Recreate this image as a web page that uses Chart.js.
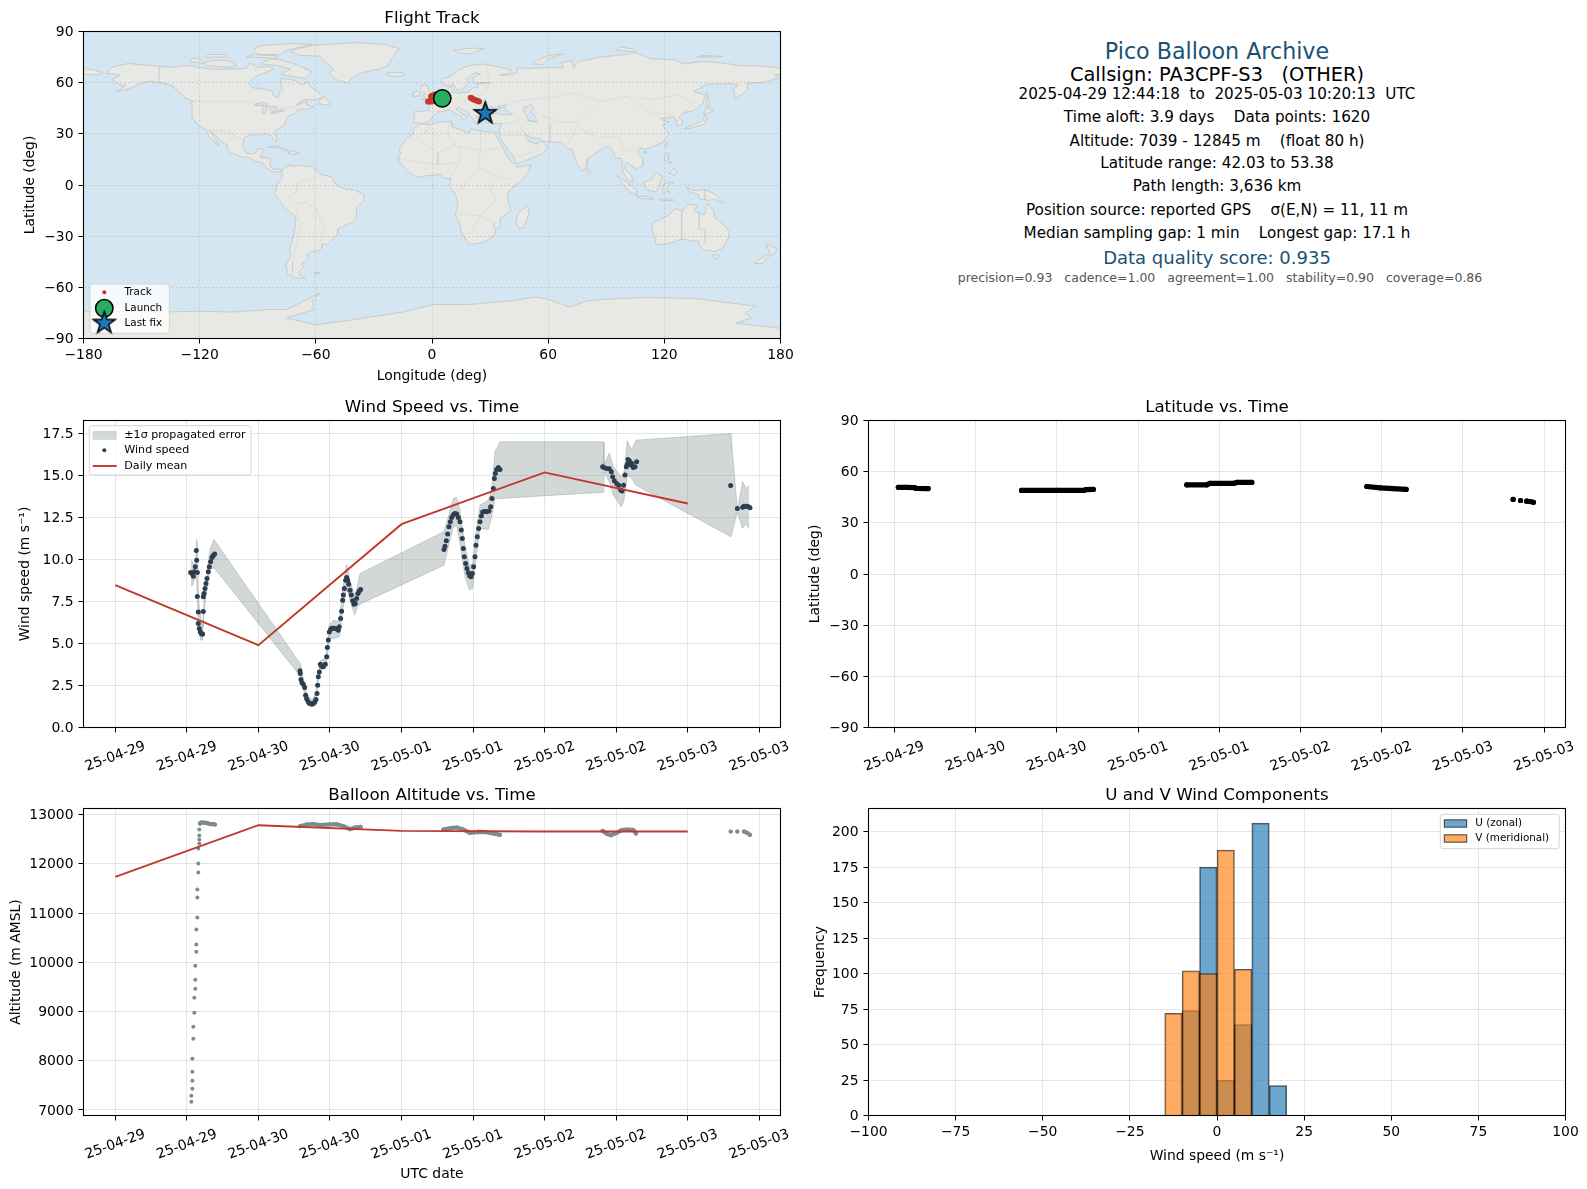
<!DOCTYPE html>
<html>
<head>
<meta charset="utf-8">
<title>Pico Balloon Archive</title>
<script src="https://cdn.jsdelivr.net/npm/chart.js@4/dist/chart.umd.js"></script>
<style>
  body { margin: 0; background: #fff; font-family: "DejaVu Sans", sans-serif; }
  #page { position: relative; width: 1587px; height: 1189px; overflow: hidden; }
  canvas { position: absolute; }
  .info { position: absolute; left: 1217px; transform: translate(-50%, -50%); white-space: pre; color: #000; font-size: 15.2px; }
</style>
</head>
<body>
<div id="page">
  <canvas id="map"></canvas>
  <canvas id="wind"></canvas>
  <canvas id="lat"></canvas>
  <canvas id="alt"></canvas>
  <canvas id="hist"></canvas>
  <div class="info" style="top:50.6px;font-size:22.2px;color:#1a5276">Pico Balloon Archive</div>
  <div class="info" style="top:73.9px;font-size:19.4px">Callsign: PA3CPF-S3   (OTHER)</div>
  <div class="info" style="top:94.1px">2025-04-29 12:44:18  to  2025-05-03 10:20:13  UTC</div>
  <div class="info" style="top:117.4px">Time aloft: 3.9 days    Data points: 1620</div>
  <div class="info" style="top:140.7px">Altitude: 7039 - 12845 m    (float 80 h)</div>
  <div class="info" style="top:162.9px">Latitude range: 42.03 to 53.38</div>
  <div class="info" style="top:186.2px">Path length: 3,636 km</div>
  <div class="info" style="top:209.5px">Position source: reported GPS    σ(E,N) = 11, 11 m</div>
  <div class="info" style="top:232.8px">Median sampling gap: 1 min    Longest gap: 17.1 h</div>
  <div class="info" style="top:257px;font-size:18px;color:#1a5276">Data quality score: 0.935</div>
  <div class="info" style="top:277.3px;left:1220px;font-size:12.5px;color:#555">precision=0.93   cadence=1.00   agreement=1.00   stability=0.90   coverage=0.86</div>
</div>
<script>
// times are hours after 2025-04-29 00:00 UTC
const hourTicks = [0, 12, 24, 36, 48, 60, 72, 84, 96, 108];
const hourLabels = ["25-04-29", "25-04-29", "25-04-30", "25-04-30", "25-05-01", "25-05-01", "25-05-02", "25-05-02", "25-05-03", "25-05-03"];
const latHourTicks = [12, 24, 36, 48, 60, 72, 84, 96, 108];
const latHourLabels = ["25-04-29", "25-04-30", "25-04-30", "25-05-01", "25-05-01", "25-05-02", "25-05-02", "25-05-03", "25-05-03"];

const lonTicks = [-180, -120, -60, 0, 60, 120, 180];
const latTicks = [-90, -60, -30, 0, 30, 60, 90];
const windTicks = [0, 2.5, 5, 7.5, 10, 12.5, 15, 17.5];
const altTicks = [7000, 8000, 9000, 10000, 11000, 12000, 13000];
const countTicks = [0, 25, 50, 75, 100, 125, 150, 175, 200];
const speedTicks = [-100, -75, -50, -25, 0, 25, 50, 75, 100];

// wind speed samples
const windHours = [12.64, 12.86, 13.09, 13.25, 13.42, 13.59, 13.65, 13.76, 13.76, 13.92, 13.92, 14.09, 14.26, 14.48, 14.65, 14.76, 14.76, 14.87, 15.04, 15.21, 15.38, 15.6, 15.77, 15.99, 16.22, 16.44, 16.66,
  30.97, 31.03, 31.14, 31.31, 31.53, 31.76, 31.92, 32.09, 32.32, 32.54, 32.76, 32.99, 33.21, 33.43, 33.66, 33.83, 33.94, 34.05, 34.22, 34.39, 34.61, 34.89, 35.22, 35.45, 35.56, 35.73, 35.89, 36.12, 36.34, 36.68, 37.01, 37.4, 37.57, 37.79, 37.96, 38.13, 38.24, 38.41, 38.63, 38.8, 38.97, 39.14, 39.36, 39.58, 39.81, 40.03, 40.25, 40.48, 40.7, 40.92, 41.15,
  55.12, 55.29, 55.52, 55.74, 55.96, 56.19, 56.41, 56.69, 56.97, 57.25, 57.53, 57.81, 58.03, 58.2, 58.37, 58.53, 58.76, 58.98, 59.21, 59.43, 59.65, 59.88, 60.1, 60.32, 60.49, 60.71, 60.94, 61.16, 61.39, 61.61, 61.94, 62.28, 62.67, 62.95, 63.17, 63.4, 63.57, 63.73, 63.96, 64.24, 64.52,
  81.73, 82.01, 82.4, 82.85, 83.19, 83.41, 83.69, 84.08, 84.42, 84.75, 84.98, 85.25, 85.48, 85.7, 85.87, 85.98, 86.21, 86.48, 86.65, 86.88, 87.16, 87.44,
  103.2, 104.32, 105.21, 105.43, 105.77, 106.1, 106.44];
const windSpeed = [9.23, 9.17, 9.0, 9.27, 9.56, 10.54, 9.96, 9.23, 7.8, 6.88, 6.19, 5.89, 5.69, 5.56, 5.56, 6.9, 7.78, 7.98, 8.27, 8.57, 8.87, 9.27, 9.56, 9.86, 10.12, 10.24, 10.32,
  3.37, 3.21, 2.86, 2.66, 2.58, 2.38, 1.92, 1.71, 1.55, 1.45, 1.41, 1.39, 1.43, 1.51, 1.67, 2.02, 2.52, 3.02, 3.31, 3.77, 3.65, 3.61, 3.77, 4.21, 4.76, 5.2, 5.69, 5.85, 5.91, 5.91, 5.87, 5.79, 5.99, 6.49, 6.92, 7.58, 7.88, 8.27, 8.77, 8.93, 8.77, 8.53, 8.17, 7.88, 7.54, 7.34, 7.38, 7.68, 7.98, 8.12, 8.21,
  10.6, 10.79, 11.11, 11.51, 11.94, 12.24, 12.5, 12.66, 12.74, 12.7, 12.5, 12.24, 11.75, 11.25, 10.65, 10.16, 9.76, 9.46, 9.21, 9.03, 8.97, 9.17, 9.56, 10.16, 10.85, 11.35, 11.85, 12.24, 12.58, 12.82, 12.86, 12.84, 12.88, 13.13, 13.63, 14.23, 14.82, 15.12, 15.36, 15.48, 15.36,
  15.52, 15.46, 15.42, 15.4, 15.22, 14.92, 14.68, 14.52, 14.42, 14.13, 14.07, 14.42, 15.02, 15.52, 15.67, 15.95, 15.87, 15.62, 15.71, 15.48, 15.52, 15.81,
  14.4, 13.04, 13.11, 13.17, 13.17, 13.15, 13.08];

// propagated error band around the wind speed
const bandHours = [12.64, 12.97, 13.37, 13.65, 13.76, 13.98, 14.32, 14.65, 14.87, 15.6, 15.88, 16.55, 31.09, 31.53, 32.09, 32.93, 33.66, 34.05, 34.44, 35.33, 35.89, 36.57, 37.57, 38.13, 38.8, 39.47, 40.14, 40.59, 41.04,
  55.12, 55.85, 56.69, 57.25, 57.81, 58.65, 59.37, 59.93, 60.6, 61.16, 62.56, 63.12, 63.68, 64.52, 81.85, 81.96, 82.85, 83.52, 84.86, 85.31, 85.87, 86.6, 87.32, 103.25, 104.32, 105.21, 105.77, 106.33];
const bandUpper = [10.0, 9.86, 9.56, 11.19, 10.95, 7.58, 6.59, 5.99, 7.58, 9.86, 10.56, 11.19, 3.77, 2.82, 2.02, 1.63, 2.02, 3.21, 4.0, 4.11, 6.09, 6.39, 6.29, 8.17, 9.72, 8.57, 7.88, 8.37, 9.17,
  11.65, 12.54, 13.63, 13.69, 12.94, 10.75, 9.66, 9.76, 11.94, 13.23, 13.53, 14.13, 16.41, 17.0, 17.0, 15.6, 16.35, 15.52, 14.92, 15.12, 17.06, 16.51, 17.1, 17.5, 12.94, 14.62, 14.23, 14.42];
const bandLower = [8.41, 8.47, 8.97, 8.77, 7.48, 6.19, 5.2, 5.2, 6.88, 8.77, 9.37, 9.52, 3.02, 2.32, 1.53, 1.33, 1.53, 2.82, 3.41, 3.61, 5.3, 5.3, 5.4, 6.98, 8.27, 7.48, 6.69, 7.18, 7.34,
  9.66, 10.75, 11.94, 12.04, 10.95, 8.97, 8.21, 8.27, 10.36, 11.85, 11.79, 12.54, 13.63, 13.63, 14.0, 15.2, 14.62, 13.83, 13.13, 13.53, 15.02, 14.82, 14.42, 11.35, 12.84, 11.85, 12.14, 11.81];

// daily means
const dailyHours = [0, 24, 48, 72, 96];
const dailyWind = [8.47, 4.9, 12.1, 15.18, 13.33];
const dailyAlt = [11733, 12783, 12668, 12654, 12654];

// latitude track, null splits the stretches of continuous reports
const latHours = [12.6, 13.8, 15.0, 15.2, 17.0, 17.0, 30.8, 36, 40, 40.3, 41.4, 41.4, 55.2, 58.2, 58.6, 62.1, 62.6, 64.8, 64.8, 81.8, 83.8, 85.7, 87.6, 87.6, 103.4, 103.4, 104.5, 104.5, 105.4, 105.9, 106.4];
const latValues = [50.8, 50.8, 50.7, 50.2, 50.1, null, 49, 49, 49, 49.5, 49.6, null, 52.3, 52.3, 53.1, 53.1, 53.7, 53.7, null, 51.3, 50.5, 50.1, 49.6, null, 43.7, null, 43.1, null, 42.7, 42.5, 42.03];

// altitude: the climb as separate points, then the float stretches
const climbHours = [12.75, 12.75, 12.92, 12.92, 12.92, 12.92, 13.09, 13.09, 13.25, 13.25, 13.42, 13.42, 13.42, 13.59, 13.59, 13.59, 13.76, 13.76, 13.76, 13.92, 13.92, 13.92, 14.09, 14.09, 14.09, 14.09];
const climbAlt = [7167, 7289, 7431, 7594, 7776, 8041, 8447, 8691, 8976, 9280, 9463, 9646, 9931, 10215, 10358, 10663, 10907, 11313, 11476, 11821, 12004, 12309, 12411, 12492, 12573, 12695];
const floatHours = [14.2, 14.43, 14.76, 15.21, 15.6, 15.99, 16.44, 16.72, 16.72,
  30.97, 32.09, 33.21, 34.33, 35.73, 37.12, 38.24, 39.36, 40.2, 41.15, 41.15,
  55.01, 56.13, 57.25, 58.37, 59.49, 60.88, 62.28, 63.68, 64.52, 64.52,
  81.73, 82.4, 83.13, 84.08, 84.92, 85.76, 86.88, 87.32, 87.32,
  103.2, 103.2, 104.32, 104.32, 105.43, 105.99, 106.44];
const floatAlt = [12817, 12837, 12837, 12831, 12817, 12804, 12804, 12797, null,
  12763, 12797, 12804, 12783, 12797, 12804, 12763, 12702, 12736, 12750, null,
  12695, 12722, 12736, 12695, 12627, 12648, 12641, 12607, 12587, null,
  12668, 12607, 12580, 12627, 12682, 12695, 12688, 12614, null,
  12654, null, 12654, null, 12654, 12627, 12587];

// wind component histogram, 5 m/s bins
const binCenters = [-12.5, -7.5, -2.5, 2.5, 7.5, 12.5, 17.5];
const uCounts = [null, 74, 175, 25, 64, 206, 21];
const vCounts = [72, 102, 100, 187, 103, null, null];

// flight track on the map
const trackLon = [-2, -1.2, -0.4, 0.4, 1, -0.5, 0.5, 1.5, 3, 20, 20.8, 21.5, 22.5, 23.5, 24.3];
const trackLat = [48.9, 49, 49, 49.1, 49.1, 52, 52.5, 53, 53.3, 51.2, 50.7, 50.2, 49.8, 49.3, 49];
const launchLon = [5.3];
const launchLat = [50.8];
const lastLon = [27.5];
const lastLat = [42.03];

// coastlines as lon/lat outlines
const northAmerica = [[-168,65.5],[-166,68.5],[-162,70],[-156.5,71.3],[-150,70.5],[-141,69.7],[-135,69],[-128,70],[-124,69.7],[-115,68],[-108,68],[-100,68],[-96,68.5],[-94,71.5],[-90,69],[-85,69.5],[-81.5,68],[-87,65.5],[-91,63.5],[-94,61],[-94.5,59],[-92.5,57],[-88,56.5],[-82.5,55],[-82,52.5],[-79.5,51.3],[-79,54],[-77,56],[-78,58.5],[-78,62.3],[-73,62],[-70,61],[-67,58.5],[-64.5,60.3],[-61.5,56.5],[-57,53],[-56,51.7],[-60,50],[-66,50],[-70,47],[-65,48.8],[-64.7,47],[-61,45.7],[-66,44],[-67,45],[-70,43.5],[-70.5,41.7],[-74,40.7],[-75.5,38],[-76,35],[-78,33.8],[-81,32],[-81.3,30],[-80,26.8],[-80.5,25.2],[-82,26.8],[-83,29],[-85,29.7],[-89,30],[-90,29.2],[-94,29.5],[-97.2,27.5],[-97.7,22.5],[-96,19],[-94,18.2],[-91,18.7],[-90.5,21],[-87,21.5],[-88,18],[-88.5,16],[-84,15.8],[-83.3,14.8],[-83.7,11],[-82,9],[-79.5,9.5],[-77.5,8.6],[-78.5,8],[-80,7.3],[-83,8.2],[-85.7,10],[-87.5,13],[-91.5,14],[-94.5,16.1],[-99,16.6],[-104,19],[-105.6,20.5],[-105.5,23],[-109,25.8],[-112.5,30],[-114.7,31.7],[-112.5,27.8],[-109.9,23],[-112,25],[-115,28],[-117,32.5],[-120.5,34.5],[-122.5,37.5],[-124.3,40.5],[-124,46.5],[-124.7,48.4],[-123,49],[-127.5,51],[-130.5,54.5],[-134,58],[-139,59.8],[-146,60.8],[-151,59.5],[-153,58],[-158,56],[-163,54.8],[-158,58.5],[-162,59],[-165,62],[-161,64.5],[-168,65.5]];
const southAmerica = [[-77.5,8.6],[-75,11],[-72,12],[-71.5,10.8],[-68,11.5],[-62,10.7],[-60,8.5],[-57,6],[-52,4.8],[-50,1],[-48,-1],[-44,-2.5],[-40,-2.9],[-35.2,-5.5],[-35,-9],[-39,-13],[-39,-18],[-41,-22],[-45,-23.7],[-48.6,-26],[-48.7,-28.5],[-52,-32.5],[-54,-34.7],[-57,-34.6],[-57,-36.5],[-58,-38.3],[-62,-39],[-65,-41],[-63.7,-42.5],[-65.5,-45],[-67.5,-46.5],[-65.8,-47.8],[-69,-51],[-68.5,-52.5],[-65.5,-54.8],[-71,-54.5],[-74.5,-52],[-75.5,-47],[-73,-42],[-73.5,-37.5],[-71.5,-30],[-70.2,-20],[-71.5,-17.2],[-76,-14],[-78,-10],[-81,-6],[-81,-4.3],[-80,-2.5],[-81,-1],[-79.5,1],[-77.5,4],[-77.5,7],[-77.5,8.6]];
const africa = [[-6,35.8],[-2,35.2],[3,36.8],[10,37.3],[10.2,34.2],[15,32.3],[19,30.4],[20,32.7],[25,31.7],[29,31],[32.3,31.2],[33.5,28],[35.5,24],[37,21],[39,16],[43,12],[44,10.5],[51.2,11.8],[50,8],[46,2.5],[41,-2],[39,-5],[39.5,-10],[40.7,-15],[35,-20],[35.5,-24],[32.8,-26],[32.5,-29],[28,-33],[25.5,-34],[20,-34.8],[18.3,-34],[15,-27],[14.3,-22],[11.8,-17],[13.5,-12],[12,-5],[9,-1],[9.8,3.5],[6,4.3],[4.5,6.3],[1,5.8],[-4,5.2],[-7.5,4.4],[-12,7.5],[-15,11],[-17.4,14.7],[-16.2,19],[-17,21],[-13,27.7],[-9.7,30],[-9.5,33],[-6,35.8]];
const eurasia = [[-9.5,37],[-9,43],[-2,43.5],[-1.2,46],[-4.5,48.4],[-1.5,48.7],[2,51],[4.5,52.5],[8,54],[8.5,57],[10.5,57.5],[10,54.5],[14,54],[19,54.5],[21,57],[24,57.5],[23.5,59.3],[30,60],[23,60],[21.3,61],[21.3,63],[25,65.3],[22,65.7],[17.5,62],[18.8,60],[16.5,57],[14.3,55.5],[12.7,56],[11,59],[8,58],[5.5,59],[5,62],[10,64],[14,67.5],[19,70],[25.5,71],[31,70],[41,67.5],[40,65.5],[35,64.5],[37,64],[40.5,64.7],[44,66],[44,68.5],[54,68.5],[60,69],[68,68.7],[67,72],[72.5,73],[73,68],[75,72],[80.5,73.5],[87,75],[100,76.5],[105,77.7],[113,74],[125,73.5],[130,71],[140,72.5],[150,71.5],[160,70],[170,69.8],[180,68.5],[180,65],[177,64.7],[179,62.5],[170,60],[163,59.8],[163,56],[160,53],[156.7,51],[155.5,56],[158,58.5],[155,59.3],[142,59.2],[135,54.7],[141,53],[140,48],[135,43.5],[130,42.5],[127.5,39.8],[129.4,37],[129,35.2],[126.5,34.5],[126.5,37.5],[124.5,40],[121,39],[118,39],[119.5,37.5],[122.5,37],[119,35],[121.8,31],[122,29],[119,25],[114,22.3],[110,21],[108,21.7],[106,19.5],[109,15],[109,11.5],[105,8.8],[105,10],[100.5,13.5],[99.3,10],[103,5.5],[104,1.5],[101,3],[98.5,8],[98,15.5],[94.5,16],[94,19],[91.5,22.5],[89,21.8],[86.8,20.5],[82,16.5],[80,15],[80,11],[77.5,8],[75,12.5],[73,18],[72.5,21],[70,21],[69,22.5],[66.5,25.3],[61.5,25],[57,26],[56,27],[51,28],[48,30],[50,26],[51.5,25],[54,24],[56.3,26],[59.8,22.5],[57.8,19],[52,16],[45,12.8],[43,13],[42.5,16],[39,21],[35,28],[34.9,29.5],[34.5,31.5],[36,36],[32,36],[28,36.7],[26.5,39],[29,41],[33,42],[36,41.3],[41.5,41.5],[37,45],[38,47],[33.5,46],[36,45.3],[33.5,44.5],[30.5,46],[28,43],[28,41.5],[26,40.7],[23,40.4],[24,38],[22.5,36.5],[19.5,41],[19,42.5],[13.7,45.5],[12.3,44.5],[16,41.5],[18.5,40],[16,38],[15.7,40],[12,42],[9,44.3],[6,43],[3,43],[0,39.5],[-2,36.8],[-5.5,36],[-9.5,37]];
const antarctica = [[-180,-74],[-140,-74.5],[-120,-74],[-103,-74.5],[-85,-73],[-75,-73],[-68,-69],[-58,-63.3],[-62,-68],[-61,-73],[-75,-78],[-60,-82],[-41,-79],[-15,-74.5],[1,-70],[20,-70],[40,-68],[53,-65.7],[60,-67],[71,-71.5],[80,-68],[89,-67],[110,-66],[135,-66.5],[150,-68.5],[167,-71],[162,-75],[165,-78],[157,-81],[180,-84],[180,-90],[-180,-90],[-180,-74]];
const greenland = [[-73,78.2],[-68,76],[-58,75.5],[-54,71],[-51,68],[-53,65],[-49,61.5],[-43.5,60],[-41,63],[-36,65.8],[-26,68.5],[-22,70.5],[-21,74],[-19,77],[-17,80],[-25,82.5],[-40,83.5],[-60,82],[-68,80.5],[-73,78.2]];
const australia = [[114,-22],[113.5,-26],[115.7,-32],[115,-34.5],[118,-35],[123.5,-34],[129,-31.7],[134,-32.7],[137.8,-33],[138,-35.5],[141,-38.3],[146,-39],[150,-37.3],[153,-31],[153.3,-27],[149,-21.5],[146,-19],[145.3,-15],[142.5,-10.8],[141.5,-13],[141,-17],[139,-17.3],[135.5,-15],[137,-12],[132,-11.3],[129.5,-15],[125.5,-14],[122,-18],[117,-20.7],[114,-22]];
const islands = [
  [[-180,68.5],[-175,67.5],[-170,66],[-173,64.5],[-180,65],[-180,68.5]],
  [[-80,73.7],[-72,71.5],[-67,69],[-62,66.5],[-65,62.5],[-72,63.5],[-78,65],[-73,68],[-80,70],[-88,71],[-85,73.5],[-80,73.7]],
  [[-117,70],[-105,69],[-101,70],[-105,73],[-114,73],[-118,71.5],[-117,70]],
  [[-125,72],[-118,71.5],[-120,74.3],[-124,74.3],[-125,72]],
  [[-90,76.5],[-78,76.5],[-75,79],[-62,82.5],[-72,83],[-90,81.5],[-92,79],[-90,76.5]],
  [[-96,75],[-80,74.5],[-80,75.7],[-92,76.5],[-96,75]],
  [[-117,75],[-106,75],[-106,76.5],[-116,76.5],[-117,75]],
  [[-59,47.7],[-53,46.7],[-52.8,48.5],[-55.5,51.5],[-57.5,50.5],[-59,47.7]],
  [[-24,65.5],[-22,64],[-18,63.4],[-14,64.5],[-15,66],[-20,66],[-24,65.5]],
  [[-85,22],[-80,23],[-74.2,20.2],[-77.5,19.9],[-78,21.5],[-82,22.5],[-85,22]],
  [[-74.4,18.5],[-72.5,20],[-68.5,18.7],[-71,17.8],[-74.4,18.5]],
  [[-61,-51.5],[-58,-51.4],[-58,-52],[-60.5,-52.2],[-61,-51.5]],
  [[49.3,-12],[50.4,-16],[47.5,-25],[45,-25.5],[43.3,-22],[44.5,-16.5],[49.3,-12]],
  [[-5.5,50],[1.3,51.2],[1.7,52.8],[-0.2,54],[-2,56],[-2,57.7],[-3.2,58.6],[-5.2,58.5],[-6,56],[-4.8,54.8],[-3,53.5],[-5,52],[-3,51.3],[-5.5,50]],
  [[-10,52],[-6.2,52.3],[-6,54],[-7.5,55.3],[-10,54],[-10,52]],
  [[11,79],[20,80.3],[27,80],[20,77],[15,77],[11,79]],
  [[52,71],[57,70.7],[60,74],[68,76.8],[60,76],[54,73],[52,71]],
  [[95,79],[105,78],[105,79.5],[97,81],[95,79]],
  [[137,75.2],[146,75],[150,75.3],[140,76],[137,75.2]],
  [[142,54.3],[143,50],[143.5,46.5],[142,46],[142,50],[142,54.3]],
  [[130,33],[132,34.2],[136,35.7],[140,38],[141,41.3],[142,39.5],[140.8,35.5],[137,34.5],[135,33.6],[132,33],[130,33]],
  [[140,41.6],[141.8,45.4],[145.3,43.5],[143,42],[140,41.6]],
  [[120,23],[121.5,25.2],[121.5,23],[120.8,22],[120,23]],
  [[108.7,19],[110.5,20],[110.5,18.5],[108.7,19]],
  [[120,16],[120.7,18.5],[122.3,18.2],[122,15],[124,12.8],[121,13.7],[120,16]],
  [[122,7],[125.5,9.7],[126.5,7],[125.3,5.7],[122,7]],
  [[95.3,5.5],[98,4],[103.5,-1],[106,-3.2],[105.7,-5.8],[102,-4],[99,0],[95.3,5.5]],
  [[109,1.5],[113,3],[116,7],[119,5],[117.7,1],[116,-4],[111,-3],[109.5,0],[109,1.5]],
  [[105.3,-6.5],[110,-6.5],[114.5,-7.7],[114.5,-8.7],[108,-7.8],[105.3,-6.5]],
  [[119.5,-5.5],[119,-2.5],[120,1],[125,1.5],[121,-1],[123,-4.5],[121,-3],[119.5,-5.5]],
  [[131,-1],[135,-3.3],[141,-2.6],[147,-6],[150.5,-10.5],[146,-8.5],[143,-9],[138,-8],[137.5,-5.5],[133,-4],[131,-1]],
  [[117,-8.5],[124,-8],[125,-9],[118,-9.2],[117,-8.5]],
  [[144.7,-40.8],[148.3,-41],[147,-43.6],[145.5,-42.5],[144.7,-40.8]],
  [[172.7,-34.5],[178.5,-37.7],[175.3,-41.6],[174,-39],[172.7,-34.5]],
  [[172.7,-40.6],[174.2,-41.8],[170.5,-46],[166.5,-46],[170,-43],[172.7,-40.6]],
  [[80,9.7],[82,7.3],[80.7,6],[79.8,7.5],[80,9.7]]
];
const inlandWater = [
  [[47,45],[51,47],[53,45],[51,43],[53.5,40],[54,37],[50,37.5],[49,40.5],[47.5,43],[47,45]],
  [[-92,46.7],[-88,48.5],[-85,47.8],[-84.7,46.5],[-87,46.5],[-92,46.7]],
  [[-87.8,42],[-86,42],[-85,45.7],[-87,45.5],[-87.8,42]],
  [[-84,46],[-81,46],[-80,44.7],[-82,43],[-83.5,44],[-84,46]],
  [[-83,41.7],[-79,42.8],[-76,43.6],[-76.5,44],[-79.5,43.5],[-83,42.4],[-83,41.7]]
];
const borders = [
  [[-123,49],[-95,49],[-83,46],[-75,45],[-67,47]],
  [[-117,32.5],[-106,31.7],[-97.2,26]],
  [[-141,69.7],[-141,60],[-134,58]],
  [[-70,-18],[-69,-11],[-74,-7],[-70,-4],[-70,1],[-67,2],[-60,5]],
  [[-58,-20],[-60,-14],[-65,-10],[-69,-11]],
  [[-70,-18],[-67,-23],[-70,-33],[-72,-45],[-72,-52]],
  [[-58,-20],[-55,-25],[-58,-34]],
  [[-8,27],[-2,32],[-2,35]],
  [[9,37],[8,30],[12,23],[3,19],[-5,25],[-8,27]],
  [[12,23],[25,20],[25,31.7]],
  [[25,20],[37,22]],
  [[25,20],[24,10],[35,5],[41,3]],
  [[3,19],[3,12],[14,13],[15,23]],
  [[-17,15],[3,12]],
  [[14,13],[9,4]],
  [[24,10],[13,-5]],
  [[13,-17],[25,-18],[33,-9],[30,-2],[35,5]],
  [[25,-18],[20,-28],[17,-29]],
  [[25,-18],[32,-22],[32,-26]],
  [[28,70],[30,60],[24,51],[30,46]],
  [[14,54],[15,50],[24,48],[28,43]],
  [[2,51],[8,48],[6,43]],
  [[-2,43.5],[3,43]],
  [[38,47],[47,50],[60,51],[72,54],[87,49],[100,52],[115,50],[127,53],[135,48],[131,43]],
  [[53,42],[66,37],[75,37],[80,30],[88,28],[97,28],[99,22],[101,20],[105,22],[108,21.7]],
  [[75,37],[74,31],[70,24],[69,22.5]],
  [[61,36],[61,25]],
  [[36,36],[44,37],[48,30]],
  [[44,37],[45,39],[54,37]],
  [[87,49],[80,43],[75,37]],
  [[100,52],[112,43],[125,41]],
  [[35,29],[47,29],[52,24],[56,25]],
  [[43,16],[52,19],[55,22]],
  [[141,-2.6],[141,-9]],
  [[129,-15],[129,-31.7]],
  [[138,-16],[138,-26],[141,-26],[141,-34]]
];

Chart.defaults.font.family = "'DejaVu Sans', sans-serif";
Chart.defaults.font.size = 13.9;
Chart.defaults.color = "#000";
Chart.defaults.animation = false;
Chart.defaults.plugins.legend.display = false;
Chart.defaults.plugins.tooltip.enabled = false;

const GRID = "rgba(176,176,176,0.32)";
const RED = "#c0392b";

const pairs = (xs, ys) => xs.map((x, i) => ({ x: x, y: ys[i] }));
const lonLat = (list) => list.map((p) => ({ x: p[0], y: p[1] }));
const minusSign = (v) => String(v).replace("-", "\u2212");

// the matplotlib 5 pointed star, chart.js has only the open one
function starImage(outer) {
  const size = Math.ceil(outer * 2 + 6);
  const c = document.createElement("canvas");
  c.width = size;
  c.height = size;
  const g = c.getContext("2d");
  g.beginPath();
  for (let i = 0; i < 10; i++) {
    const r = i % 2 ? outer * 0.4 : outer;
    const a = -Math.PI / 2 + i * Math.PI / 5;
    g.lineTo(size / 2 + r * Math.cos(a), size / 2 + r * Math.sin(a));
  }
  g.closePath();
  g.fillStyle = "#1f77b4";
  g.fill();
  g.lineWidth = 1.5;
  g.strokeStyle = "#000";
  g.stroke();
  return c;
}
const star = starImage(11.5);

// spines on all four sides
const frame = {
  id: "frame",
  afterDraw(chart) {
    const a = chart.chartArea, g = chart.ctx;
    g.save();
    g.strokeStyle = "#000";
    g.lineWidth = 1.1;
    g.strokeRect(a.left, a.top, a.right - a.left, a.bottom - a.top);
    g.restore();
  },
};

// y tick labels, chart.js sits them a pixel too high against matplotlib
const yLabels = {
  id: "yLabels",
  afterDraw(chart) {
    const g = chart.ctx, ys = chart.scales.y;
    g.save();
    g.fillStyle = "#000";
    g.font = "13.9px 'DejaVu Sans'";
    g.textAlign = "right";
    g.textBaseline = "middle";
    ys.ticks.forEach((t) => g.fillText(t.label, chart.chartArea.left - 10, ys.getPixelForValue(t.value) + 1));
    g.restore();
  },
};

// date labels turned 20 degrees and centred on their tick
function slantLabels(labels) {
  return {
    id: "slantLabels",
    afterDraw(chart) {
      const g = chart.ctx, xs = chart.scales.x;
      g.save();
      g.fillStyle = "#000";
      g.font = "13.9px 'DejaVu Sans'";
      g.textAlign = "center";
      g.textBaseline = "middle";
      xs.ticks.forEach((t, i) => {
        g.save();
        g.translate(xs.getPixelForValue(t.value), chart.chartArea.bottom + 29);
        g.rotate(-20 * Math.PI / 180);
        g.fillText(labels[i], 0, 0);
        g.restore();
      });
      g.restore();
    },
  };
}

// filled outlines for the map, taken from the points the line controller laid out
const outlineFill = {
  id: "outlineFill",
  beforeDatasetDraw(chart, args) {
    const ds = chart.data.datasets[args.index];
    if (!ds.outlineFill) return;
    const g = chart.ctx, a = chart.chartArea;
    g.save();
    g.beginPath();
    g.rect(a.left, a.top, a.right - a.left, a.bottom - a.top);
    g.clip();
    g.beginPath();
    args.meta.data.forEach((p) => g.lineTo(p.x, p.y));
    g.closePath();
    g.fillStyle = ds.outlineFill;
    g.fill();
    g.restore();
  },
};

const oceanBackground = {
  id: "oceanBackground",
  beforeDatasetsDraw(chart) {
    const a = chart.chartArea, g = chart.ctx;
    g.save();
    g.fillStyle = "#d4e6f1";
    g.fillRect(a.left, a.top, a.right - a.left, a.bottom - a.top);
    g.restore();
  },
};

// legend box with the same look as the matplotlib one, offsets from the plot corner
function boxLegend(spec) {
  return {
    id: "boxLegend",
    afterDraw(chart) {
      const a = chart.chartArea, g = chart.ctx, b = spec.box;
      g.save();
      g.translate(a.left, a.top);
      g.beginPath();
      g.roundRect(b[0], b[1], b[2] - b[0], b[3] - b[1], 3);
      g.fillStyle = "rgba(255,255,255,0.8)";
      g.fill();
      g.strokeStyle = "#d5d5d5";
      g.lineWidth = 1;
      g.stroke();
      g.font = spec.font + "px 'DejaVu Sans'";
      g.textBaseline = "middle";
      spec.items.forEach((it) => {
        it.draw(g, it.y);
        g.fillStyle = "#000";
        g.fillText(it.text, spec.textX, it.y);
      });
      g.restore();
    },
  };
}

function dot(x, r, fill, edge) {
  return (g, y) => {
    g.beginPath();
    g.arc(x, y, r, 0, Math.PI * 2);
    g.fillStyle = fill;
    g.fill();
    if (edge) {
      g.lineWidth = 1.5;
      g.strokeStyle = edge;
      g.stroke();
    }
  };
}

function swatch(x0, x1, h, fill, edge) {
  return (g, y) => {
    g.fillStyle = fill;
    g.fillRect(x0, y - h / 2, x1 - x0, h);
    if (edge) {
      g.lineWidth = 1.1;
      g.strokeStyle = edge;
      g.strokeRect(x0, y - h / 2, x1 - x0, h);
    }
  };
}

function xAxis(min, max, ticks, opts) {
  opts = opts || {};
  return {
    type: "linear",
    min: min,
    max: max,
    offset: false,
    afterBuildTicks: (s) => { s.ticks = ticks.map((v) => ({ value: v })); },
    afterFit: (s) => { s.height = opts.height; s.paddingLeft = 0; s.paddingRight = 0; },
    grid: Object.assign({ color: GRID, tickColor: "#000", tickLength: 5, lineWidth: 1, offset: false }, opts.grid),
    border: Object.assign({ display: false }, opts.border),
    ticks: { display: !!opts.showLabels, autoSkip: false, maxRotation: 0, padding: 4, callback: minusSign },
    title: { display: !!opts.title, text: opts.title, padding: { top: 0, bottom: 0 }, font: { size: 13.9 } },
  };
}

function yAxis(min, max, ticks, title, width, format, opts) {
  opts = opts || {};
  return {
    type: "linear",
    min: min,
    max: max,
    afterBuildTicks: (s) => { s.ticks = ticks.map((v) => ({ value: v })); },
    afterFit: (s) => { s.width = width; s.paddingTop = 0; s.paddingBottom = 0; },
    grid: Object.assign({ color: GRID, tickColor: "#000", tickLength: 5, lineWidth: 1 }, opts.grid),
    border: Object.assign({ display: false }, opts.border),
    ticks: { display: false, autoSkip: false, callback: format },
    title: { display: true, text: title, padding: { top: 0, bottom: 0 }, font: { size: 13.9 } },
  };
}

// put a canvas so that its plot area lands on the given rectangle
const TITLE_H = 24.5;
const RIGHT_PAD = 18.5;
function place(id, rect, yWidth, xHeight) {
  const c = document.getElementById(id);
  c.style.left = (rect.l - yWidth) + "px";
  c.style.top = (rect.t - TITLE_H) + "px";
  c.width = rect.r - rect.l + yWidth + RIGHT_PAD;
  c.height = rect.b - rect.t + TITLE_H + xHeight;
  return c;
}

const titleOpts = (text) => ({
  display: true,
  fullSize: false,
  text: text,
  font: { size: 16.67, weight: "normal" },
  padding: { top: 2, bottom: 2.5 },
  color: "#000",
});
const common = () => ({
  responsive: false,
  maintainAspectRatio: false,
  devicePixelRatio: 1,
  layout: { autoPadding: false, padding: { left: 0, right: RIGHT_PAD, top: 0, bottom: 0 } },
});

// ---- map ----
const outline = (list, fill, order) => ({
  data: lonLat(list),
  outlineFill: fill,
  borderColor: "#c9cbc9",
  borderWidth: 1,
  pointRadius: 0,
  fill: false,
  order: order,
});
const LAND = "#e8e8e4";
const landShapes = [northAmerica, southAmerica, africa, eurasia, antarctica, greenland, australia].concat(islands);
const mapDatasets = landShapes.map((s) => outline(s, LAND, 20));
inlandWater.forEach((s) => mapDatasets.push(outline(s, "#d4e6f1", 15)));
borders.forEach((s) => mapDatasets.push({
  data: lonLat(s),
  borderColor: "rgba(190,190,186,0.4)",
  borderWidth: 0.7,
  pointRadius: 0,
  fill: false,
  order: 10,
}));
mapDatasets.push({ data: pairs(trackLon, trackLat), showLine: false, pointRadius: 3, backgroundColor: RED, borderWidth: 0, order: 3 });
mapDatasets.push({ data: pairs(launchLon, launchLat), showLine: false, pointRadius: 8.7, backgroundColor: "#27ae60", borderColor: "#000", borderWidth: 1.5, order: 2 });
mapDatasets.push({ data: pairs(lastLon, lastLat), showLine: false, pointStyle: star, pointRadius: 11, order: 1 });

const dashedGrid = { color: "rgba(150,150,150,0.32)", z: 1 };
new Chart(place("map", { l: 83.5, r: 780.5, t: 31.5, b: 338.5 }, 61.5, 46.5), {
  type: "line",
  data: { datasets: mapDatasets },
  plugins: [oceanBackground, outlineFill, frame, yLabels, boxLegend({
    box: [6.5, 252.5, 85.8, 301.8],
    font: 10.4,
    textX: 41,
    items: [
      { text: "Track", y: 260.8, draw: dot(20.8, 2, RED) },
      { text: "Launch", y: 276.8, draw: dot(20.8, 8.7, "#27ae60", "#000") },
      { text: "Last fix", y: 291.5, draw: (g, y) => g.drawImage(star, 20.8 - star.width / 2, y - star.height / 2) },
    ],
  })],
  options: Object.assign(common(), {
    plugins: { title: titleOpts("Flight Track") },
    scales: {
      x: xAxis(-180, 180, lonTicks, { height: 46.5, showLabels: true, title: "Longitude (deg)", grid: dashedGrid, border: { dash: [2, 2] } }),
      y: yAxis(-90, 90, latTicks, "Latitude (deg)", 61.5, minusSign, { grid: dashedGrid, border: { dash: [2, 2] } }),
    },
  }),
});

// ---- wind speed ----
const BAND = "rgba(127,140,141,0.35)";
new Chart(place("wind", { l: 83.5, r: 780.5, t: 420.5, b: 727.5 }, 66.5, 65.5), {
  type: "line",
  data: {
    datasets: [
      { data: pairs(bandHours, bandUpper), fill: "+1", backgroundColor: BAND, borderColor: BAND, borderWidth: 1, pointRadius: 0, order: 3 },
      { data: pairs(bandHours, bandLower), fill: false, borderColor: BAND, borderWidth: 1, pointRadius: 0, order: 3 },
      { data: pairs(windHours, windSpeed), showLine: false, pointRadius: 2.5, backgroundColor: "#2c3e50", borderWidth: 0, order: 2 },
      { data: pairs(dailyHours, dailyWind), borderColor: RED, borderWidth: 1.9, pointRadius: 0, fill: false, order: 1 },
    ],
  },
  plugins: [frame, yLabels, slantLabels(hourLabels), boxLegend({
    box: [5.8, 5.2, 167.5, 54.5],
    font: 11.1,
    textX: 40.8,
    items: [
      { text: "\u00b11\u03c3 propagated error", y: 14.8, draw: swatch(9.2, 33.2, 9, BAND) },
      { text: "Wind speed", y: 29.8, draw: dot(20.8, 2, "#2c3e50") },
      { text: "Daily mean", y: 45.5, draw: swatch(9.2, 33.2, 1.9, RED) },
    ],
  })],
  options: Object.assign(common(), {
    plugins: { title: titleOpts("Wind Speed vs. Time") },
    scales: {
      x: xAxis(-5.33, 111.56, hourTicks, { height: 65.5 }),
      y: yAxis(0, 18.27, windTicks, "Wind speed (m s\u207b\u00b9)", 66.5, (v) => v.toFixed(1)),
    },
  }),
});

// ---- latitude ----
new Chart(place("lat", { l: 868.5, r: 1565.5, t: 420.5, b: 727.5 }, 61.5, 65.5), {
  type: "line",
  data: {
    datasets: [
      { data: pairs(latHours, latValues), borderColor: "#000", backgroundColor: "#000", borderWidth: 5.2, borderCapStyle: "round", borderJoinStyle: "round", pointRadius: 2.6, pointBorderWidth: 0, fill: false },
    ],
  },
  plugins: [frame, yLabels, slantLabels(latHourLabels)],
  options: Object.assign(common(), {
    plugins: { title: titleOpts("Latitude vs. Time") },
    scales: {
      x: xAxis(8.19, 111.14, latHourTicks, { height: 65.5 }),
      y: yAxis(-90, 90, latTicks, "Latitude (deg)", 61.5, minusSign),
    },
  }),
});

// ---- altitude ----
const GREY_DOT = "#7f8c8d";
new Chart(place("alt", { l: 83.5, r: 780.5, t: 808.5, b: 1115.5 }, 75.5, 67.5), {
  type: "line",
  data: {
    datasets: [
      { data: pairs(climbHours, climbAlt), showLine: false, pointRadius: 2, backgroundColor: GREY_DOT, borderWidth: 0, order: 3 },
      { data: pairs(floatHours, floatAlt), borderColor: GREY_DOT, backgroundColor: GREY_DOT, borderWidth: 4.2, borderCapStyle: "round", borderJoinStyle: "round", pointRadius: 2, pointBorderWidth: 0, fill: false, order: 2 },
      { data: pairs(dailyHours, dailyAlt), borderColor: RED, borderWidth: 1.9, pointRadius: 0, fill: false, order: 1 },
    ],
  },
  plugins: [frame, yLabels, slantLabels(hourLabels)],
  options: Object.assign(common(), {
    plugins: { title: titleOpts("Balloon Altitude vs. Time") },
    scales: {
      x: xAxis(-5.33, 111.56, hourTicks, { height: 67.5, title: "UTC date" }),
      y: yAxis(6888, 13122, altTicks, "Altitude (m AMSL)", 75.5, (v) => String(v)),
    },
  }),
});

// ---- histogram ----
const U_FILL = "rgba(31,119,180,0.65)";
const V_FILL = "rgba(255,127,14,0.65)";
const BAR_EDGE = "rgba(0,0,0,0.65)";
new Chart(place("hist", { l: 868.5, r: 1565.5, t: 808.5, b: 1115.5 }, 56.5, 49.5), {
  type: "bar",
  data: {
    datasets: [
      { data: pairs(binCenters, uCounts), backgroundColor: U_FILL, borderColor: BAR_EDGE, borderWidth: 1.1, grouped: false, barPercentage: 1, categoryPercentage: 1, order: 2 },
      { data: pairs(binCenters, vCounts), backgroundColor: V_FILL, borderColor: BAR_EDGE, borderWidth: 1.1, grouped: false, barPercentage: 1, categoryPercentage: 1, order: 1 },
    ],
  },
  plugins: [frame, yLabels, boxLegend({
    box: [571.8, 5.8, 690.8, 40.2],
    font: 10.4,
    textX: 606.8,
    items: [
      { text: "U (zonal)", y: 15, draw: swatch(575.8, 598.2, 7.4, U_FILL, BAR_EDGE) },
      { text: "V (meridional)", y: 30, draw: swatch(575.8, 598.2, 7.4, V_FILL, BAR_EDGE) },
    ],
  })],
  options: Object.assign(common(), {
    plugins: { title: titleOpts("U and V Wind Components") },
    scales: {
      x: xAxis(-100, 100, speedTicks, { height: 49.5, showLabels: true, title: "Wind speed (m s\u207b\u00b9)" }),
      y: yAxis(0, 216.3, countTicks, "Frequency", 56.5, (v) => String(v)),
    },
  }),
});
</script>
</body>
</html>
